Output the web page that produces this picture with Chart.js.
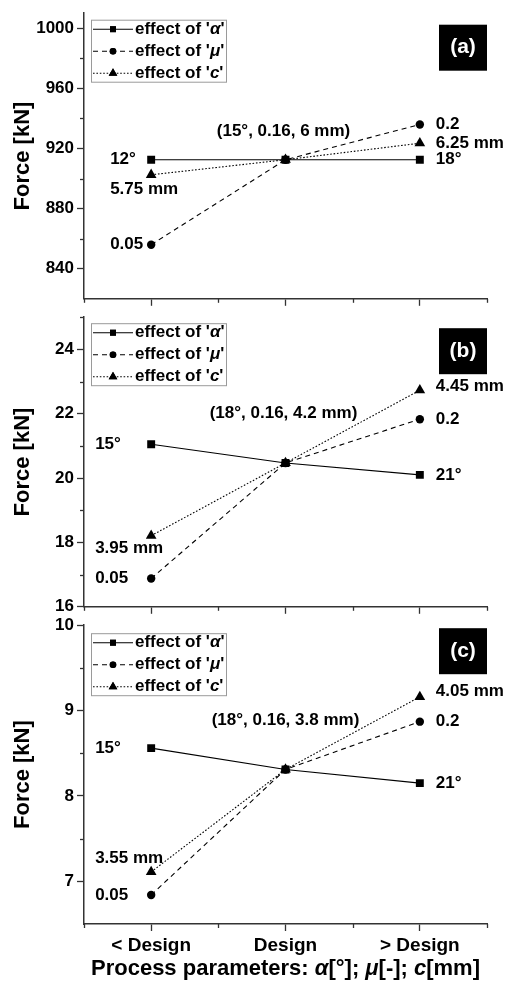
<!DOCTYPE html>
<html><head><meta charset="utf-8">
<script src="https://cdn.jsdelivr.net/npm/chart.js@4.4.0/dist/chart.umd.min.js"></script>
<style>
html,body{margin:0;padding:0;background:#fff;}
#wrap{position:relative;width:508px;height:986px;overflow:hidden;background:#fff;}
canvas{position:absolute;left:0;}
</style></head><body>
<div id="wrap">
<canvas id="ca"></canvas>
<canvas id="cb"></canvas>
<canvas id="cc"></canvas>
</div>
<script>
const FAM = "'Liberation Sans', Arial, Helvetica, sans-serif";
Chart.defaults.font.family = FAM;

const categories = ['< Design', 'Design', '> Design'];
const seriesSymbols = ['α', 'μ', 'c'];

// Panel (a)
const alphaA = [912.5, 912.5, 912.5];
const muA    = [856, 912.5, 936];
const cA     = [902.5, 912.5, 923.5];
const alphaTextA = ['12°', '', '18°'];
const muTextA    = ['0.05', '', '0.2'];
const cTextA     = ['5.75 mm', '', '6.25 mm'];
const designTextA = '(15°, 0.16, 6 mm)';
const yMajorA = [840, 880, 920, 960, 1000];
const yMinorA = [860, 900, 940, 980];
const yRangeA = [820, 1010];

// Panel (b)
const alphaB = [21.05, 20.47, 20.1];
const muB    = [16.88, 20.47, 21.83];
const cB     = [18.21, 20.47, 22.73];
const alphaTextB = ['15°', '', '21°'];
const muTextB    = ['0.05', '', '0.2'];
const cTextB     = ['3.95 mm', '', '4.45 mm'];
const designTextB = '(18°, 0.16, 4.2 mm)';
const yMajorB = [16, 18, 20, 22, 24];
const yMinorB = [17, 19, 21, 23, 25];
const yRangeB = [16, 25];

// Panel (c)
const alphaC = [8.56, 8.31, 8.15];
const muC    = [6.84, 8.31, 8.87];
const cC     = [7.11, 8.31, 9.16];
const alphaTextC = ['15°', '', '21°'];
const muTextC    = ['0.05', '', '0.2'];
const cTextC     = ['3.55 mm', '', '4.05 mm'];
const designTextC = '(18°, 0.16, 3.8 mm)';
const yMajorC = [7, 8, 9, 10];
const yMinorC = [7.5, 8.5, 9.5];
const yRangeC = [6.5, 10];

const panelTags = ['(a)', '(b)', '(c)'];
const yTitle = 'Force [kN]';
const xTitleParts = [
  {t: 'Process parameters: ', it: false}, {t: 'α', it: true}, {t: '[°]; ', it: false},
  {t: 'μ', it: true}, {t: '[-]; ', it: false}, {t: 'c', it: true}, {t: '[mm]', it: false}
];

// ---- styles / layout (not data) ----
const seriesStyle = [
  {dash: [], point: 'rect', r: 5.6, lr: 4.2},
  {dash: [5, 4], point: 'circle', r: 4.2, lr: 3.3},
  {dash: [1.6, 1.8], point: 'triangle', r: 6.2, lr: 5}
];

function richText(ctx, parts, x, y, size, align) {
  const fonts = parts.map(p => (p.it ? 'italic ' : '') + 'bold ' + size + 'px ' + FAM);
  let total = 0;
  const ws = parts.map((p, i) => { ctx.font = fonts[i]; const w = ctx.measureText(p.t).width; total += w; return w; });
  let cx = align === 'center' ? x - total / 2 : x;
  ctx.textAlign = 'left';
  parts.forEach((p, i) => { ctx.font = fonts[i]; ctx.fillText(p.t, cx, y); cx += ws[i]; });
}

const deco = {
  id: 'deco',
  afterDatasetsDraw(chart, args, o) {
    const ctx = chart.ctx, xs = chart.scales.x, ys = chart.scales.y, ca = chart.chartArea;
    ctx.save();
    ctx.fillStyle = '#000';
    ctx.textBaseline = 'middle';
    ctx.font = 'bold 17px ' + FAM;
    // point labels
    o.texts.forEach((arr, i) => {
      arr.forEach((t, j) => {
        if (!t) return;
        const pl = o.place[i][j === 0 ? 0 : 1];
        const px = xs.getPixelForValue(j);
        const py = ys.getPixelForValue(chart.data.datasets[i].data[j]);
        ctx.textAlign = 'left';
        ctx.fillText(t, px + pl[0], py + pl[1]);
      });
    });
    // design label
    ctx.textAlign = 'center';
    const dx = xs.getPixelForValue(1), dy = ys.getPixelForValue(chart.data.datasets[0].data[1]);
    ctx.fillText(o.design, dx + o.designOff[0], dy + o.designOff[1]);
    // legend
    const bx = ca.left + 7, by = ca.top + o.legendDy;
    ctx.strokeStyle = '#9a9a9a'; ctx.lineWidth = 1;
    ctx.strokeRect(bx + 0.5, by + 0.5, 135, 62);
    chart.data.datasets.forEach((ds, k) => {
      const ry = by + 9.5 + k * 22;
      const st = seriesStyle[k];
      ctx.strokeStyle = '#000'; ctx.lineWidth = 1.1;
      ctx.setLineDash(st.dash);
      ctx.beginPath(); ctx.moveTo(bx + 2, ry); ctx.lineTo(bx + 42, ry); ctx.stroke();
      ctx.setLineDash([]);
      Chart.helpers.drawPoint(ctx, {pointStyle: st.point, radius: st.lr, rotation: 0, borderWidth: 0}, bx + 22, ry);
      ctx.fillStyle = '#000';
      ctx.fill();
      richText(ctx, [{t: "effect of '", it: false}, {t: seriesSymbols[k], it: true}, {t: "'", it: false}], bx + 44, ry, 17, 'left');
    });
    // panel tag
    const tx = ca.right - 48, ty = ca.top + o.tagDy;
    ctx.fillStyle = '#000';
    ctx.fillRect(tx, ty, 48, 46);
    ctx.fillStyle = '#fff'; ctx.textAlign = 'center'; ctx.font = 'bold 21px ' + FAM;
    ctx.fillText(o.tag, tx + 24, ty + 23);
    // minor ticks
    ctx.strokeStyle = '#333'; ctx.lineWidth = 1.3;
    o.yMinor.forEach(v => {
      const py = Math.round(ys.getPixelForValue(v)) + 0.5;
      ctx.beginPath(); ctx.moveTo(ca.left - 4, py); ctx.lineTo(ca.left, py); ctx.stroke();
    });
    for (let i = 0; i <= categories.length; i++) {
      const px = Math.round(xs.getPixelForValue(i - 0.5)) + 0.5;
      ctx.beginPath(); ctx.moveTo(px, ca.bottom); ctx.lineTo(px, ca.bottom + 4); ctx.stroke();
    }
    // x title on bottom panel
    if (o.xTitle) {
      ctx.fillStyle = '#000';
      richText(ctx, xTitleParts, (ca.left + ca.right) / 2, chart.height - 17, 22, 'center');
    }
    ctx.restore();
  }
};

function makePanel(id, geo, data, texts, design, yMajor, yMinor, yRange, tag, place, isBottom) {
  const canvas = document.getElementById(id);
  canvas.width = 508; canvas.height = geo.h; canvas.style.top = geo.top + 'px';
  const datasets = data.map((vals, i) => ({
    label: "effect of '" + seriesSymbols[i] + "'",
    data: vals,
    borderColor: '#000', backgroundColor: '#000',
    borderWidth: 1.1, borderDash: seriesStyle[i].dash,
    pointStyle: seriesStyle[i].point, pointRadius: seriesStyle[i].r,
    pointBackgroundColor: '#000', pointBorderColor: '#000', pointBorderWidth: 0,
    tension: 0, fill: false
  }));
  new Chart(canvas, {
    type: 'line',
    data: {labels: categories, datasets},
    options: {
      responsive: false, animation: false, devicePixelRatio: 1,
      layout: {padding: {top: geo.padTop, right: 21, left: 0, bottom: 0}},
      plugins: {
        legend: {display: false}, tooltip: {enabled: false},
        deco: {texts, place: place.pts, design, designOff: place.design, legendDy: place.legendDy,
               tag, tagDy: place.tagDy, yMinor, xTitle: isBottom}
      },
      scales: {
        x: {
          type: 'category', offset: true,
          grid: {display: true, drawOnChartArea: false, drawTicks: true, tickLength: 7, color: '#333', tickWidth: 1.3, offset: false},
          border: {display: true, color: '#333', width: 1.5},
          ticks: {display: isBottom, color: '#000', font: {size: 19, weight: 'bold'}, padding: 3, maxRotation: 0, autoSkip: false},
          afterFit: s => { s.height = geo.xh; }
        },
        y: {
          type: 'linear', min: yRange[0], max: yRange[1],
          afterBuildTicks: s => { s.ticks = yMajor.map(v => ({value: v})); },
          ticks: {color: '#000', font: {size: 17, weight: 'bold'}, padding: 3, callback: v => String(v)},
          grid: {drawOnChartArea: false, drawTicks: true, tickLength: 7, color: '#333', tickWidth: 1.3},
          border: {display: true, color: '#333', width: 1.5},
          title: {display: true, text: yTitle, color: '#000', font: {size: 22, weight: 'bold'}, padding: {top: 10, bottom: 0}},
          afterFit: s => { s.width = 84; }
        }
      }
    },
    plugins: [deco]
  });
}

makePanel('ca', {top: 0, h: 312, padTop: 1.5, xh: 9.5},
  [alphaA, muA, cA], [alphaTextA, muTextA, cTextA], designTextA, yMajorA, yMinorA, yRangeA, panelTags[0],
  {pts: [[[-41, 0], [16, 0]], [[-41, 0], [16, 0]], [[-41, 15], [16, 0]]], design: [-2, -28], legendDy: 6.5, tagDy: 11.5}, false);

makePanel('cb', {top: 304, h: 316, padTop: 7, xh: 10},
  [alphaB, muB, cB], [alphaTextB, muTextB, cTextB], designTextB, yMajorB, yMinorB, yRangeB, panelTags[1],
  {pts: [[[-56, 0], [16, 0]], [[-56, 0], [16, 0]], [[-56, 13], [16, -4]]], design: [-2, -50], legendDy: 6, tagDy: 11}, false);

makePanel('cc', {top: 612, h: 374, padTop: 13, xh: 62},
  [alphaC, muC, cC], [alphaTextC, muTextC, cTextC], designTextC, yMajorC, yMinorC, yRangeC, panelTags[2],
  {pts: [[[-56, 0], [16, 0]], [[-56, 0], [16, 0]], [[-56, -14], [16, -6]]], design: [0, -49], legendDy: 8, tagDy: 3}, true);
</script>
</body></html>
